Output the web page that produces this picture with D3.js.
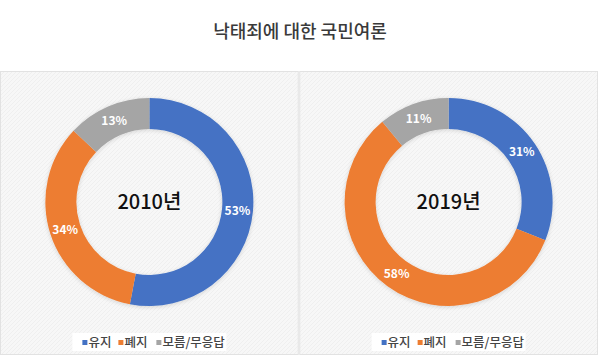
<!DOCTYPE html>
<html><head><meta charset="utf-8">
<script src="https://cdn.jsdelivr.net/npm/d3@7"></script>
<style>
html,body{margin:0;padding:0;background:#fff;}
svg{display:block;font-family:"Noto Sans CJK KR","Noto Sans",sans-serif;}
</style></head>
<body><svg id="c" width="600" height="358"></svg>
<script>
const title = "낙태죄에 대한 국민여론";
const categories = ["유지", "폐지", "모름/무응답"];
const colors = ["#4472c4", "#ed7d31", "#a5a5a5"];
const years = ["2010년", "2019년"];
const values2010 = [53, 34, 13];
const values2019 = [31, 58, 11];
const seriesValues = [values2010, values2019];

const svg = d3.select("#c");
const defs = svg.append("defs");
const pat = defs.append("pattern").attr("id","hatch").attr("patternUnits","userSpaceOnUse")
  .attr("width",4).attr("height",4);
pat.append("rect").attr("width",4).attr("height",4).attr("fill","#f7f7f7");
pat.append("path").attr("d","M-1,1 l2,-2 M0,4 l4,-4 M3,5 l2,-2").attr("stroke","#efefef").attr("stroke-width",1);

const shadow = defs.append("filter").attr("id","sh").attr("x","-20%").attr("y","-20%").attr("width","140%").attr("height","140%");
shadow.append("feGaussianBlur").attr("in","SourceAlpha").attr("stdDeviation",2);
shadow.append("feOffset").attr("dx",0).attr("dy",1).attr("result","b");
shadow.append("feComponentTransfer").append("feFuncA").attr("type","linear").attr("slope",0.15);
const m = shadow.append("feMerge"); m.append("feMergeNode"); m.append("feMergeNode").attr("in","SourceGraphic");

svg.append("text").attr("x",300).attr("y",38).attr("text-anchor","middle")
  .attr("font-size",18).attr("font-weight",500).attr("fill","#3a3a3a").text(title);

const panelX = d3.scaleBand().domain(years).range([0.5, 597.5]).paddingInner(0.005);
const outerR = 104, innerR = 73;
const pie = d3.pie().sort(null).value(d => d);
const arc = d3.arc().innerRadius(innerR).outerRadius(outerR);
const labelArc = d3.arc().innerRadius((innerR+outerR)/2).outerRadius((innerR+outerR)/2);

years.forEach((yr, i) => {
  const x0 = panelX(yr), w = panelX.bandwidth();
  const g = svg.append("g");
  g.append("rect").attr("x",x0).attr("y",71.5).attr("width",w).attr("height",283)
    .attr("fill","url(#hatch)").attr("stroke","#e2e2e2").attr("stroke-width",1);
  const cx = x0 + w/2, cy = 202;
  const dg = g.append("g").attr("transform",`translate(${cx},${cy})`);
  const arcs = pie(seriesValues[i]);
  dg.append("g").attr("filter","url(#sh)").selectAll("path").data(arcs).join("path")
    .attr("d",arc).attr("fill",(d,j)=>colors[j]);
  dg.selectAll("text.lbl").data(arcs).join("text").attr("class","lbl")
    .attr("transform",d=>`translate(${labelArc.centroid(d)})`)
    .attr("text-anchor","middle").attr("dy","0.35em")
    .attr("font-size",12).attr("font-weight",700).attr("fill","#fff")
    .text(d=>d.data+"%");
  dg.append("text").attr("text-anchor","middle").attr("dy","0.35em")
    .attr("font-size",20).attr("font-weight",500).attr("fill","#111").text(yr);

  // legend
  const lg = g.append("g");
  lg.append("rect").attr("x",cx-77).attr("y",333).attr("width",154).attr("height",18).attr("fill","#fff");
  const items = [{x:-67},{x:-31},{x:7}];
  categories.forEach((c,j)=>{
    const lx = cx + items[j].x;
    lg.append("rect").attr("x",lx).attr("y",340).attr("width",5).attr("height",5).attr("fill",colors[j]);
    lg.append("text").attr("x",lx+6).attr("y",347).attr("font-size",12.5).attr("font-weight",500)
      .attr("fill","#444").text(c);
  });
});
</script></body></html>
